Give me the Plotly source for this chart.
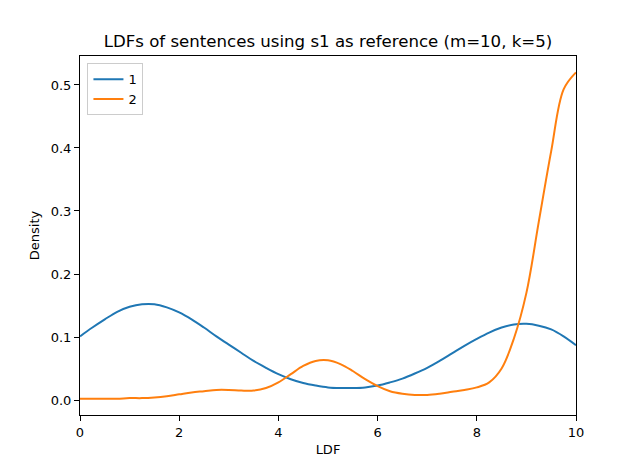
import plotly.graph_objects as go

# LDF values where the density curves were read (0.25 steps)
ldf = [i * 0.25 for i in range(41)]

# density of sentence 1
density_1 = [0.101, 0.115, 0.128, 0.140, 0.148, 0.152, 0.152, 0.147, 0.139,
             0.128, 0.115, 0.101, 0.088, 0.075, 0.062, 0.051, 0.041, 0.033,
             0.027, 0.023, 0.020, 0.019, 0.019, 0.020, 0.023, 0.028, 0.034,
             0.042, 0.051, 0.062, 0.074, 0.086, 0.097, 0.107, 0.115, 0.120,
             0.121, 0.118, 0.112, 0.101, 0.087]

# density of sentence 2
density_2 = [0.002, 0.002, 0.002, 0.002, 0.003, 0.003, 0.004, 0.006, 0.009,
             0.012, 0.014, 0.016, 0.016, 0.015, 0.015, 0.019, 0.028, 0.041,
             0.054, 0.062, 0.063, 0.057, 0.046, 0.033, 0.022, 0.014, 0.010,
             0.008, 0.008, 0.010, 0.013, 0.016, 0.020, 0.028, 0.050, 0.098,
             0.170, 0.283, 0.395, 0.493, 0.520]

series = [("1", density_1, "#1f77b4"), ("2", density_2, "#ff7f0e")]

fig = go.Figure()
for name, dens, color in series:
    fig.add_trace(go.Scatter(
        x=ldf, y=dens, name=name, mode="lines",
        line=dict(color=color, width=2, shape="spline", smoothing=1.0),
    ))

axis_style = dict(
    showline=True, linecolor="black", linewidth=1, mirror=True,
    ticks="outside", ticklen=5, tickcolor="black", showgrid=False,
    zeroline=False, tickfont=dict(size=13, color="black"),
)

# the page body adds an 8px offset, so margins are trimmed to compensate
fig.update_layout(
    width=640, height=468,
    margin=dict(l=72, r=72, t=48, b=61),
    paper_bgcolor="white", plot_bgcolor="white",
    font=dict(family="DejaVu Sans", color="black"),
    title=dict(text="LDFs of sentences using s1 as reference (m=10, k=5)",
               x=0.5, xanchor="center", y=0.929, yanchor="middle",
               font=dict(size=16.6)),
    xaxis=dict(range=[0, 10], tickvals=[0, 2, 4, 6, 8, 10],
               title=dict(text="LDF", font=dict(size=13), standoff=6),
               **axis_style),
    yaxis=dict(range=[-0.0238, 0.546], tickvals=[0, 0.1, 0.2, 0.3, 0.4, 0.5],
               tickformat=".1f",
               title=dict(text="Density", font=dict(size=13), standoff=8),
               **axis_style),
    legend=dict(x=0.015, y=0.98, xanchor="left", yanchor="top",
                bgcolor="white", bordercolor="#cccccc", borderwidth=1,
                tracegroupgap=2, font=dict(size=13)),
)

fig.write_html("out.html")
